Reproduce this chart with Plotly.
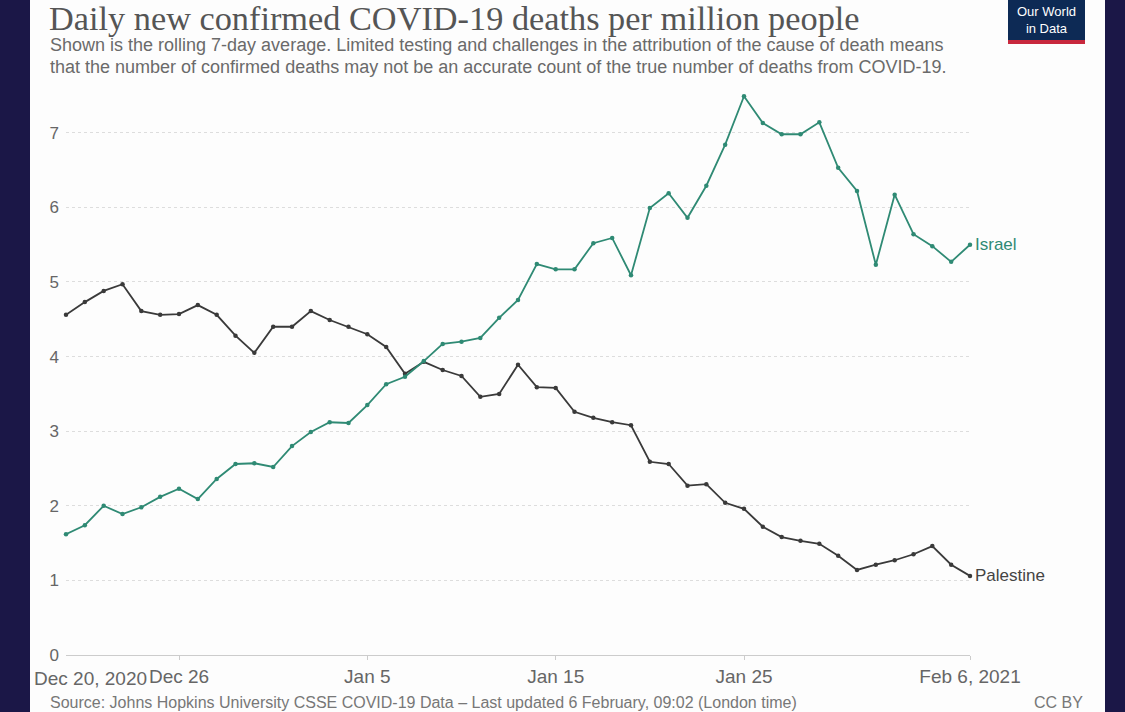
import plotly.graph_objects as go
import pandas as pd

dates = pd.date_range("2020-12-20", "2021-02-06", freq="D")

israel = [1.62, 1.74, 2.00, 1.89, 1.98, 2.12, 2.23, 2.09, 2.36, 2.56,
          2.57, 2.52, 2.80, 2.99, 3.12, 3.11, 3.35, 3.63, 3.73, 3.94,
          4.17, 4.20, 4.25, 4.52, 4.76, 5.24, 5.17, 5.17, 5.52, 5.59,
          5.09, 5.99, 6.19, 5.86, 6.29, 6.84, 7.49, 7.13, 6.98, 6.98,
          7.14, 6.53, 6.22, 5.23, 6.17, 5.64, 5.48, 5.27, 5.50]

palestine = [4.56, 4.73, 4.88, 4.97, 4.61, 4.56, 4.57, 4.69, 4.56, 4.28,
             4.05, 4.40, 4.40, 4.61, 4.49, 4.40, 4.30, 4.13, 3.77, 3.93,
             3.82, 3.74, 3.46, 3.50, 3.89, 3.59, 3.58, 3.26, 3.18, 3.12,
             3.08, 2.59, 2.56, 2.27, 2.29, 2.04, 1.96, 1.72, 1.58, 1.53,
             1.49, 1.33, 1.14, 1.21, 1.27, 1.35, 1.46, 1.21, 1.06]

tick_dates = ["2020-12-26", "2021-01-05", "2021-01-15", "2021-01-25", "2021-02-06"]
tick_labels = ["Dec 26", "Jan 5", "Jan 15", "Jan 25", "Feb 6, 2021"]
first_label = "Dec 20, 2020"
y_ticks = [0, 1, 2, 3, 4, 5, 6, 7]

title = "Daily new confirmed COVID-19 deaths per million people"
subtitle1 = "Shown is the rolling 7-day average. Limited testing and challenges in the attribution of the cause of death means"
subtitle2 = "that the number of confirmed deaths may not be an accurate count of the true number of deaths from COVID-19."
source = "Source: Johns Hopkins University CSSE COVID-19 Data – Last updated 6 February, 09:02 (London time)"

GREEN = "#2f8a74"
DARK = "#3a3a3a"
W, H = 1125, 712
L, R, T, B = 66, 970, 88, 655


def px(x):
    return (x - L) / (R - L)


def py(y):
    return (B - y) / (B - T)


fig = go.Figure()
fig.add_trace(go.Scatter(x=dates, y=palestine, mode="lines+markers", name="Palestine",
                         line=dict(color=DARK, width=1.8), marker=dict(size=4.5, color=DARK),
                         cliponaxis=False))
fig.add_trace(go.Scatter(x=dates, y=israel, mode="lines+markers", name="Israel",
                         line=dict(color=GREEN, width=1.8), marker=dict(size=4.5, color=GREEN),
                         cliponaxis=False))

shapes = [
    dict(type="rect", xref="paper", yref="paper", x0=px(30), x1=px(1105), y0=py(712), y1=py(0),
         fillcolor="#fdfdfd", line=dict(width=0), layer="below"),
    dict(type="rect", xref="paper", yref="paper", x0=px(1008), x1=px(1085), y0=py(40), y1=py(0),
         fillcolor="#0d2a55", line=dict(width=0)),
    dict(type="rect", xref="paper", yref="paper", x0=px(1008), x1=px(1085), y0=py(44), y1=py(40),
         fillcolor="#c8283d", line=dict(width=0)),
]

ann = []
ann.append(dict(xref="paper", yref="paper", x=px(47), y=py(18), text=title, showarrow=False,
                xanchor="left", yanchor="middle",
                font=dict(family="Liberation Serif", size=34.3, color="#555555")))
ann.append(dict(xref="paper", yref="paper", x=px(48), y=py(45), text=subtitle1, showarrow=False,
                xanchor="left", yanchor="middle",
                font=dict(family="Liberation Sans", size=18, color="#6a6a6a")))
ann.append(dict(xref="paper", yref="paper", x=px(48), y=py(67), text=subtitle2, showarrow=False,
                xanchor="left", yanchor="middle",
                font=dict(family="Liberation Sans", size=18, color="#6a6a6a")))
ann.append(dict(xref="paper", yref="paper", x=px(1046), y=py(20), text="Our World<br>in Data",
                showarrow=False, xanchor="center", yanchor="middle",
                font=dict(family="Liberation Sans", size=13, color="white")))
ann.append(dict(xref="paper", yref="paper", x=px(32), y=py(678), text=first_label, showarrow=False,
                xanchor="left", yanchor="middle",
                font=dict(family="Liberation Sans", size=19, color="#666666")))
ann.append(dict(xref="paper", yref="paper", x=px(48), y=py(702), text=source, showarrow=False,
                xanchor="left", yanchor="middle",
                font=dict(family="Liberation Sans", size=16, color="#777777")))
ann.append(dict(xref="paper", yref="paper", x=px(1085), y=py(702), text="CC BY", showarrow=False,
                xanchor="right", yanchor="middle",
                font=dict(family="Liberation Sans", size=16, color="#777777")))
ann.append(dict(x=dates[-1], y=israel[-1], text="Israel", showarrow=False, xanchor="left",
                yanchor="middle", xshift=3,
                font=dict(family="Liberation Sans", size=17, color=GREEN)))
ann.append(dict(x=dates[-1], y=palestine[-1], text="Palestine", showarrow=False, xanchor="left",
                yanchor="middle", xshift=3,
                font=dict(family="Liberation Sans", size=17, color="#444444")))

fig.update_layout(
    width=W, height=H,
    margin=dict(l=L, r=W - R, t=T, b=H - B, pad=0),
    paper_bgcolor="#1b1747",
    plot_bgcolor="rgba(0,0,0,0)",
    showlegend=False,
    shapes=shapes,
    annotations=ann,
    xaxis=dict(range=[dates[0], dates[-1]], tickvals=tick_dates, ticktext=tick_labels,
               showgrid=False, showline=True, linecolor="#cccccc", linewidth=1,
               ticks="outside", ticklen=4, tickcolor="#cccccc",
               tickfont=dict(family="Liberation Sans", size=19, color="#666666"),
               zeroline=False, fixedrange=True),
    yaxis=dict(range=[0, 7.6], tickvals=y_ticks, showgrid=True, gridcolor="#dddddd",
               griddash="dot", gridwidth=1, zeroline=False, ticks="", ticklabelstandoff=6,
               tickfont=dict(family="Liberation Sans", size=17, color="#666666"),
               fixedrange=True),
)

fig.write_html("out.html")
